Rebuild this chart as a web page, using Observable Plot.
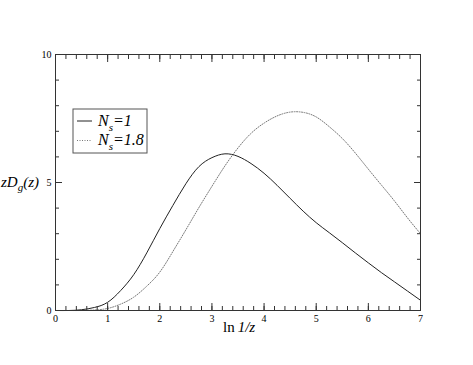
<!DOCTYPE html>
<html><head><meta charset="utf-8">
<script src="https://cdn.jsdelivr.net/npm/d3@7"></script>
<script src="https://cdn.jsdelivr.net/npm/@observablehq/plot@0.6"></script>
<style>
body{margin:0;background:#fff}
#chart{position:relative;width:473px;height:365px}
#chart svg, #chart svg text{font-family:"Liberation Serif","Times New Roman","DejaVu Serif",serif !important}
</style>
</head><body><div id="chart"></div>
<script>
const lnInvZ = [0,0.25,0.5,0.75,1,1.25,1.5,1.75,2,2.25,2.5,2.75,3,3.25,3.5,3.75,4,4.25,4.5,4.75,5,5.25,5.5,5.75,6,6.25,6.5,6.75,7];
const ns1  = [0,0,0.03,0.12,0.32,0.78,1.4,2.25,3.2,4.1,4.95,5.62,5.97,6.12,6.02,5.74,5.36,4.89,4.38,3.88,3.43,3.04,2.65,2.25,1.86,1.48,1.12,0.76,0.4];
const ns18 = [0,0,0,0.02,0.08,0.25,0.52,0.95,1.5,2.3,3.15,4.02,4.85,5.65,6.35,6.92,7.32,7.6,7.75,7.74,7.56,7.18,6.72,6.15,5.52,4.9,4.28,3.62,3.0];
const xTicks = [0,1,2,3,4,5,6,7];
const yTicks = [0,5,10];
const xMinor = d3.range(0, 7.001, 0.2).map(v => +v.toFixed(1));
const yMinor = d3.range(0, 10.001, 1);
const seriesLabels = ["1", "1.8"];

const d1 = lnInvZ.map((x, i) => ({x, y: ns1[i]}));
const d2 = lnInvZ.map((x, i) => ({x, y: ns18[i]}));
const blank = () => "";
const font = "'Liberation Serif', 'Times New Roman', 'DejaVu Serif', serif";
const ink = "#333";

const plot = Plot.plot({
  width: 473, height: 365,
  marginLeft: 55, marginRight: 53, marginTop: 54, marginBottom: 55,
  style: {fontFamily: font, fontSize: "10px", color: "#000", background: "#fff", overflow: "visible"},
  x: {domain: [0, 7]},
  y: {domain: [0, 10]},
  marks: [
    Plot.line(d2, {x: "x", y: "y", curve: "natural", stroke: "#777", strokeWidth: 1, strokeDasharray: "1,1.5"}),
    Plot.line(d1, {x: "x", y: "y", curve: "natural", stroke: "#222", strokeWidth: 1}),
    Plot.axisX({anchor: "bottom", ticks: xTicks, tickSize: 0, tickPadding: 4.5, tickFormat: d => d, label: null, fill: "#000"}),
    Plot.axisY({anchor: "left", ticks: yTicks, tickSize: 0, tickPadding: 4, tickFormat: d => d, label: null, fill: "#000"}),
    Plot.axisX({anchor: "bottom", ticks: xTicks, tickSize: -7, tickFormat: blank, label: null, stroke: ink}),
    Plot.axisX({anchor: "bottom", ticks: xMinor, tickSize: -4, tickFormat: blank, label: null, stroke: ink}),
    Plot.axisX({anchor: "top", ticks: xTicks, tickSize: -7, tickFormat: blank, label: null, stroke: ink}),
    Plot.axisX({anchor: "top", ticks: xMinor, tickSize: -4, tickFormat: blank, label: null, stroke: ink}),
    Plot.axisY({anchor: "left", ticks: yTicks, tickSize: -7, tickFormat: blank, label: null, stroke: ink}),
    Plot.axisY({anchor: "left", ticks: yMinor, tickSize: -4, tickFormat: blank, label: null, stroke: ink}),
    Plot.axisY({anchor: "right", ticks: yTicks, tickSize: -7, tickFormat: blank, label: null, stroke: ink}),
    Plot.axisY({anchor: "right", ticks: yMinor, tickSize: -4, tickFormat: blank, label: null, stroke: ink}),
    Plot.frame({stroke: ink, strokeWidth: 1})
  ]
});
document.getElementById("chart").appendChild(plot);

const svg = d3.select(plot);
// y label
const yl = svg.append("text").attr("x", 1).attr("y", 187).attr("text-anchor", "start")
  .attr("font-family", font).attr("font-size", 15).attr("font-style", "italic").attr("fill", "#000");
yl.append("tspan").text("zD");
yl.append("tspan").attr("font-size", 11).attr("dy", 4).text("g");
yl.append("tspan").attr("dy", -4).text("(z)");
// x label
const xl = svg.append("text").attr("x", 223).attr("y", 332).attr("text-anchor", "start")
  .attr("font-family", font).attr("font-size", 15).attr("fill", "#000");
xl.append("tspan").text("ln\u2009");
xl.append("tspan").attr("font-style", "italic").text("1/z");

// legend
const lg = svg.append("g");
lg.append("rect").attr("x", 73).attr("y", 109).attr("width", 74).attr("height", 44)
  .attr("fill", "#fff").attr("stroke", "#555").attr("stroke-width", 1);
const styles = [{stroke: "#222", dash: null}, {stroke: "#777", dash: "1,1.5"}];
seriesLabels.forEach((lab, i) => {
  const cy = 121 + i * 19.5;
  lg.append("line").attr("x1", 77).attr("x2", 92).attr("y1", cy).attr("y2", cy)
    .attr("stroke", styles[i].stroke).attr("stroke-dasharray", styles[i].dash);
  const t = lg.append("text").attr("x", 98).attr("y", cy + 4.5).attr("text-anchor", "start")
    .attr("font-family", font).attr("font-size", 16).attr("font-style", "italic").attr("fill", "#000");
  t.append("tspan").text("N");
  t.append("tspan").attr("font-size", 11).attr("dy", 5).text("s");
  t.append("tspan").attr("dy", -5).text("=" + lab);
});
</script>
</body></html>
